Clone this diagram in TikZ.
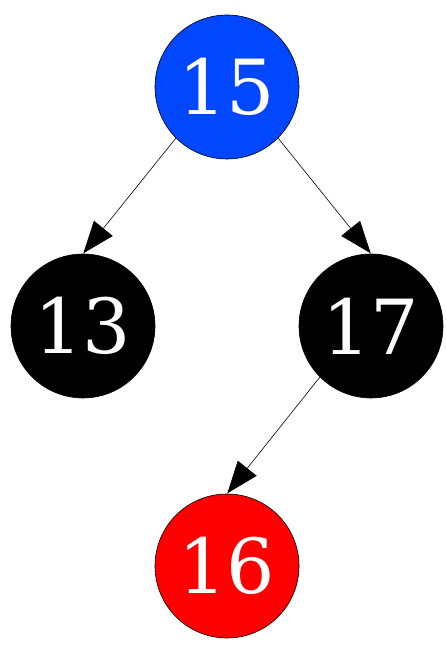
\documentclass[tikz,border=0pt]{standalone}
\usepackage{fontspec}
\setmainfont{DejaVu Serif}
\usepackage{tikz}
\usetikzlibrary{arrows.meta}

\definecolor{keyblue}{RGB}{0,71,255}

\begin{document}
\begin{tikzpicture}[
    x=1pt, y=1pt,
    keynode/.style={circle, draw=black, line width=0.6pt, minimum size=144pt, inner sep=0pt,
                    text=white, font=\fontsize{76}{76}\selectfont},
    bluekey/.style={keynode, fill=keyblue},
    blackkey/.style={keynode, fill=black},
    redkey/.style={keynode, fill=red},
    arr/.style={-{Triangle[length=32pt,width=24pt]}, line width=0.6pt, shorten >=0.5pt}
  ]
  \useasboundingbox (0,0) rectangle (446,645);
  \node[bluekey]  (n15) at (227,558) {15};
  \node[blackkey] (n13) at (83,319)  {13};
  \node[blackkey] (n17) at (371,319) {17};
  \node[redkey]   (n16) at (227,79)  {16};

  \draw[arr] (n15.south west) -- (n13.north);
  \draw[arr] (n15.south east) -- (n17.north);
  \draw[arr] (n17.south west) -- (n16.north);
\end{tikzpicture}
\end{document}
